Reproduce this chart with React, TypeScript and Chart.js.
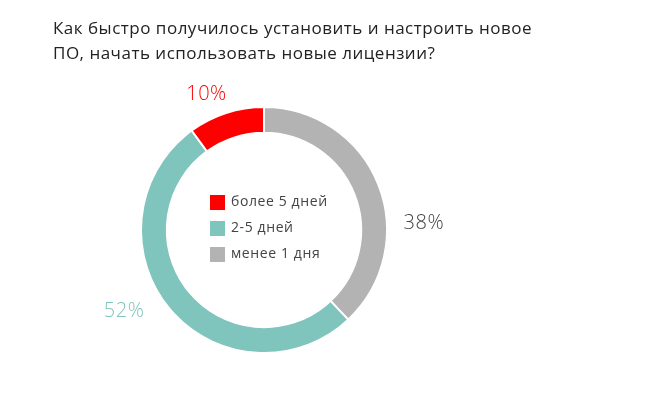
import React, { useEffect, useRef } from "react";
import { Chart, registerables } from "chart.js";

Chart.register(...registerables);

const titleLines = [
  "Как быстро получилось установить и настроить новое",
  "ПО, начать использовать новые лицензии?",
];
// drawing order (clockwise from top)
const categories = ["менее 1 дня", "2-5 дней", "более 5 дней"];
const values = [38, 52, 10];
const colors = ["#b3b3b3", "#7fc4bd", "#ff0000"];
const labelColors = ["#444444", "#7fc4bd", "#ff0000"];
// legend order
const legendOrder = [2, 1, 0];
// where along each arc the % label sits (fraction of arc) and distance from centre
const labelFrac = [0.64, 0.55, 0.36];
const labelRadius = [160, 162, 147];

const FONT = "'Open Sans', sans-serif";

export default function App() {
  const ref = useRef<HTMLCanvasElement>(null);
  useEffect(() => {
    const canvas = ref.current!;
    const overlay = {
      id: "overlay",
      afterDraw(chart: any) {
        const ctx = chart.ctx as any;
        ctx.save();
        // title
        ctx.fillStyle = "#222";
        ctx.font = `17px ${FONT}`;
        ctx.letterSpacing = "0.5px";
        ctx.textBaseline = "middle";
        ctx.textAlign = "left";
        titleLines.forEach((t, i) => ctx.fillText(t, 53, 29 + i * 25));
        // labels
        const meta = chart.getDatasetMeta(0);
        const total = values.reduce((a, b) => a + b, 0);
        ctx.letterSpacing = "0.5px";
        meta.data.forEach((arc: any, i: number) => {
          const a = arc.startAngle + (arc.endAngle - arc.startAngle) * labelFrac[i];
          const x = arc.x + Math.cos(a) * labelRadius[i];
          const y = arc.y + Math.sin(a) * labelRadius[i];
          ctx.fillStyle = labelColors[i];
          ctx.font = `300 20px ${FONT}`;
          ctx.textAlign = "center";
          ctx.textBaseline = "middle";
          ctx.fillText(`${Math.round((values[i] / total) * 100)}%`, x, y);
        });
        // legend in centre
        const cx = meta.data[0].x;
        const cy = meta.data[0].y;
        ctx.letterSpacing = "0.6px";
        legendOrder.forEach((idx, row) => {
          const y = cy - 28 + row * 26;
          ctx.fillStyle = colors[idx];
          ctx.fillRect(cx - 54, y - 7, 15, 15);
          ctx.fillStyle = "#444";
          ctx.font = `14px ${FONT}`;
          ctx.textAlign = "left";
          ctx.textBaseline = "middle";
          ctx.fillText(categories[idx], cx - 33, y);
        });
        ctx.restore();
      },
    };
    const chart = new Chart(canvas, {
      type: "doughnut",
      data: {
        labels: categories,
        datasets: [
          {
            data: values,
            backgroundColor: colors,
            borderColor: "#ffffff",
            borderWidth: 2,
          },
        ],
      },
      options: {
        animation: false,
        responsive: false,
        cutout: "79%",
        layout: { padding: { left: 140, right: 262, top: 105, bottom: 39 } },
        plugins: {
          legend: { display: false },
          title: { display: false },
          tooltip: { enabled: false },
        },
      },
      plugins: [overlay],
    });
    return () => chart.destroy();
  }, []);
  return (
    <div style={{ position: "fixed", left: 0, top: 0, width: 650, height: 394, background: "#fff" }}>
      <canvas ref={ref} width={650} height={394} style={{ width: 650, height: 394 }} />
    </div>
  );
}
